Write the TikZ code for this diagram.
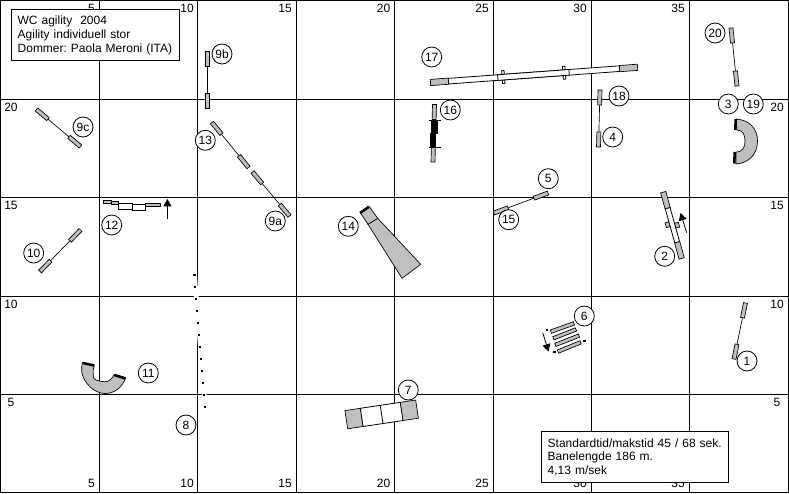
\documentclass[tikz,border=0pt]{standalone}
\usepackage{fontspec}
\setmainfont{Liberation Sans}
\usetikzlibrary{arrows.meta}
\definecolor{obst}{gray}{.75}
\tikzset{
	obstacle/.style={draw=black, fill=obst, line width=.5pt},
	plank/.style={draw=black, fill=white, line width=.6pt},
	rail/.style={draw=black, line width=.5pt},
	num/.style={circle, draw=black, fill=white, line width=.6pt, minimum size=15pt, inner sep=0pt, font=\fontsize{9}{10}\selectfont},
	gridnum/.style={inner sep=0pt, font=\fontsize{9}{10}\selectfont},
	infobox/.style={draw=black, fill=white, line width=.75pt, anchor=north west, align=left, inner xsep=4.4pt, inner ysep=0pt, font=\fontsize{9}{10.3}\selectfont\frenchspacing},
	dirarrow/.style={draw=black, line width=.6pt, -{Triangle[length=5.5pt,width=6pt]}}
}
% jump: two wings and the bar between them
\newcommand{\jump}[4]{
	\pgfmathsetmacro{\ang}{atan2(-(#4-#2),#3-#1)}
	\pgfmathsetmacro{\len}{veclen(#3-#1,#4-#2)}
	\begin{scope}[shift={(#1,#2)}, rotate=\ang]
		\draw[rail] (15,0) -- (\len-15,0);
		\draw[obstacle] (0,-2) rectangle (15,2);
		\draw[obstacle] (\len-15,-2) rectangle (\len,2);
	\end{scope}
}
\begin{document}
\begin{tikzpicture}[x=.75pt, y=-.75pt]
	\useasboundingbox (0,0) rectangle (789,493);
	\fill[white] (0,0) rectangle (789,493);
	% grid
	\foreach \i in {.6,99.3,197.4,296,394.3,493.3,591.3,689.3,788.3} {
		\draw[line width=.75pt] (\i,0) -- (\i,493);
	}
	\foreach \i in {.6,99.3,197.4,296.3,394.3,492.3} {
		\draw[line width=.75pt] (0,\i) -- (789,\i);
	}
	\foreach \n/\i in {5/91.5,10/187,15/285,20/383.5,25/482,30/580,35/678} {
		\node[gridnum] (top\n) at (\i,8.7) {\n};
		\node[gridnum] (bot\n) at (\i,483.5) {\n};
	}
	\foreach \n/\i in {20/107.3,15/205.7,10/304.5,5/402.5} {
		\node[gridnum] (left\n) at (11,\i) {\n};
		\node[gridnum] (right\n) at (777,\i) {\n};
	}
	% jumps
	\jump{207}{51}{207}{108}
	\jump{36.5}{109.5}{80.5}{146.5}
	\jump{212}{122.5}{248.5}{167.5}
	\jump{252.5}{172}{289.5}{216}
	\jump{80.5}{230}{40}{271.5}
	\jump{494}{213}{548}{193}
	\jump{600}{90}{598.5}{147}
	\jump{731}{28}{737}{86}
	\jump{745.5}{303}{734}{359}
	% tyre
	\jump{434.5}{104.5}{433}{162}
	\fill (431.2,120) rectangle (437.5,134);
	\fill (430,133) rectangle (436.3,147);
	\draw[rail] (429,120) -- (440.5,120);
	\draw[rail] (429,147) -- (441,147);
	% dogwalk
	\begin{scope}[shift={(430.5,82.5)}, rotate=4.2]
		\foreach \i in {73,134} {
			\draw[plank] (\i-1.2,-6.5) rectangle (\i+1.2,6.5);
		}
		\draw[plank] (18,-2.8) rectangle (189.6,2.8);
		\draw[plank] (67.5,-2.8) rectangle (139,2.8);
		\draw[obstacle] (0,-3.1) rectangle (18,3.1);
		\draw[obstacle] (189.6,-3.1) rectangle (207.6,3.1);
	\end{scope}
	% seesaw
	\begin{scope}[shift={(663.2,192.2)}, rotate=-74.4]
		\draw[obstacle] (33,-6.5) rectangle (38,-2.5);
		\draw[obstacle] (30,2.5) rectangle (35,6.5);
		\draw[plank] (16.5,-2.5) rectangle (52,2.5);
		\draw[obstacle] (0,-2.7) rectangle (16.5,2.7);
		\draw[obstacle] (52,-2.7) rectangle (68.8,2.7);
	\end{scope}
	\draw[dirarrow] (686.7,232.7) -- (680.5,213);
	% a-frame
	\begin{scope}[shift={(346.3,419.7)}, rotate=8.5]
		\draw[plank] (15.5,-9.2) rectangle (56,9.2);
		\draw[plank] (35.7,-9.2) -- (35.7,9.2);
		\draw[obstacle] (0,-9.2) rectangle (15.5,9.2);
		\draw[obstacle] (56,-9.2) rectangle (71.5,9.2);
	\end{scope}
	% table-like wall
	\draw[obstacle] (103.3,200.3) rectangle (111,203.3);
	\draw[obstacle] (111,201.7) rectangle (118.3,204.7);
	\draw[plank] (118.3,203.3) rectangle (132,209.3);
	\draw[plank] (132,204.3) rectangle (145.3,210.3);
	\draw[obstacle] (145.3,203.3) rectangle (160.7,206.3);
	\draw[dirarrow] (167.4,218.5) -- (167.4,199);
	% long jump
	\draw[obstacle] (550.3,330) -- (573.3,321.7) -- (574.5,325) -- (551.5,333.3) -- cycle;
	\draw[obstacle] (552.7,336.7) -- (575.3,327.8) -- (576.6,331) -- (554,339.9) -- cycle;
	\draw[obstacle] (554.7,343.3) -- (578.3,334) -- (579.6,337.2) -- (556,346.5) -- cycle;
	\draw[obstacle] (557.3,350) -- (580,340.7) -- (581.3,343.9) -- (558.6,353.2) -- cycle;
	\fill (545.7,328.5) rectangle (548,330.5);
	\fill (583.3,340) rectangle (585.6,342);
	\fill (553.3,350.8) rectangle (555.8,353);
	\draw[dirarrow] (542.7,332.7) -- (548.6,351.5);
	% tunnels
	\draw[obstacle] (736,119) .. controls (750,120) and (757.5,129) .. (757.5,141)
		.. controls (757.5,153) and (750,163) .. (736,164) -- (736,152)
		.. controls (743,152) and (745,147) .. (745,141)
		.. controls (745,135) and (743,130) .. (737,130) -- cycle;
	\draw[line width=1.9pt] (735.6,119) -- (735.4,130);
	\draw[line width=1.9pt] (734.6,152) -- (734.4,163.5);
	\draw[obstacle] (82.7,362.3) .. controls (81.5,366) and (81.5,369) .. (81.7,372)
		.. controls (84,384) and (95,393.5) .. (105,393.5)
		.. controls (114,393.5) and (122,388) .. (125.7,377.7) -- (114.3,374.3)
		.. controls (112,379) and (109,381.7) .. (105,381.7)
		.. controls (100,381.7) and (93,380) .. (93.3,376.7)
		.. controls (92.8,373) and (93,369) .. (94.3,365.7) -- cycle;
	\draw[line width=1.9pt] (83,363) -- (94.3,365.5);
	\draw[line width=1.9pt] (114.3,375) -- (125.5,378.5);
	% chute tunnel
	\draw[obstacle] (368,224.3) -- (377.7,218.3) -- (420.7,264.3) -- (402,278.3) -- cycle;
	\draw[obstacle] (360.7,213.3) -- (369.3,206.7) -- (377.7,218.3) -- (368,224.3) -- cycle;
	\draw[line width=1.9pt] (360,213) -- (369,206.7);
	% weave poles
	\draw[white, line width=3.5pt] (194.3,273) -- (205.5,408);
	\foreach \i in {0,...,11} {
		\fill ({194.3+\i*.99-1.2},{275+\i*11.97-1}) rectangle ++(2.4,2);
	}
	% numbers
	\node[num] (n1) at (747,361) {1};
	\node[num] (n2) at (664.7,256.3) {2};
	\node[num] (n3) at (728.3,104) {3};
	\node[num] (n4) at (612.7,137) {4};
	\node[num] (n5) at (548.3,178.7) {5};
	\node[num] (n6) at (584.3,316) {6};
	\node[num] (n7) at (408.3,390) {7};
	\node[num] (n8) at (186,425) {8};
	\node[num] (n9a) at (275.3,221) {9a};
	\node[num] (n9b) at (222,54) {9b};
	\node[num] (n9c) at (83,127) {9c};
	\node[num] (n10) at (33.7,253) {10};
	\node[num] (n11) at (148.3,373) {11};
	\node[num] (n12) at (111.7,225) {12};
	\node[num] (n13) at (205.3,140.3) {13};
	\node[num] (n14) at (348.3,226.3) {14};
	\node[num] (n15) at (508.7,219.7) {15};
	\node[num] (n16) at (450.3,110) {16};
	\node[num] (n17) at (431.7,57) {17};
	\node[num] (n18) at (619,96) {18};
	\node[num] (n19) at (753.3,104) {19};
	\node[num] (n20) at (715,33) {20};
	% boxes
	\node[infobox, text width=117.2pt, minimum height=38.2pt] (title) at (11.3,9.3) {WC agility~~2004\\Agility individuell stor\\Dommer: Paola Meroni (ITA)};
	\node[infobox, text width=131pt, minimum height=38.2pt] (info) at (541.3,431.3) {Standardtid/makstid 45 / 68 sek.\\Banelengde 186 m.\\4,13 m/sek};
\end{tikzpicture}
\end{document}
